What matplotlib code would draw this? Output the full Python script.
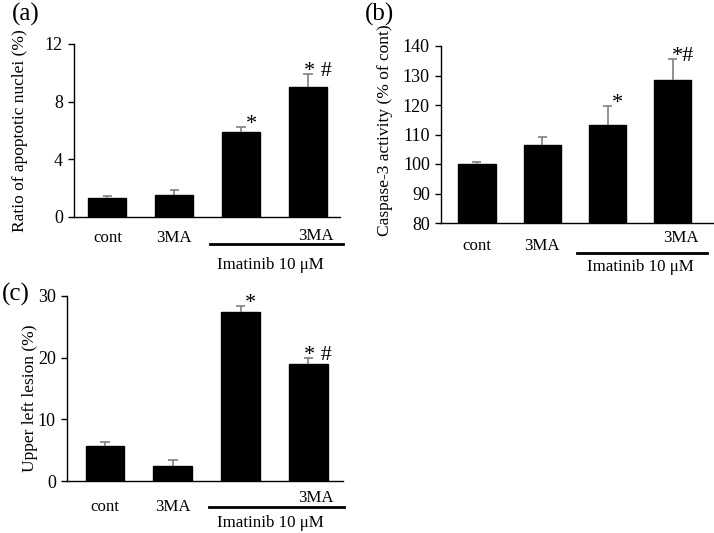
import numpy as np
import matplotlib
matplotlib.use("Agg")
import matplotlib.pyplot as plt
import matplotlib.transforms as mtransforms

plt.rcParams['font.family'] = ['Liberation Serif', 'DejaVu Serif']

# ---- data ----
groups = ['cont', '3MA', '', '3MA']

apoptotic_mean = [1.3, 1.55, 5.9, 9.0]
apoptotic_err = [0.15, 0.35, 0.35, 0.95]
apoptotic_marks = ['', '', '*', '* #']

caspase_mean = [100.0, 106.3, 113.2, 128.5]
caspase_err = [0.7, 2.7, 6.5, 7.2]
caspase_marks = ['', '', '*', '*#']

lesion_mean = [5.7, 2.5, 27.45, 18.95]
lesion_err = [0.55, 0.9, 0.95, 1.05]
lesion_marks = ['', '', '*', '* #']

DPI = 100
fig = plt.figure(figsize=(7.14, 5.33), dpi=DPI)


def draw_panel(rect, means, errs, marks, ylim, yticks, ylabel, xlim,
               ylab_pos, lab_off, ima_x):
    ax = fig.add_axes(rect)
    x = np.arange(len(means))
    ax.bar(x, np.array(means) - ylim[0], width=0.57, bottom=ylim[0],
           color='black', edgecolor='black', zorder=2)
    tops = np.array(means) + np.array(errs)
    ax.vlines(x, means, tops, color='#7f7f7f', lw=1.2, zorder=3)
    ax.hlines(tops, x - 0.07, x + 0.07, color='#7f7f7f', lw=1.2, zorder=3)
    for xi, t, m in zip(x, tops, marks):
        if m:
            tt = mtransforms.offset_copy(ax.transData, fig=fig, x=10, y=-2,
                                         units='dots')
            ax.text(xi, t, m, transform=tt, ha='center', va='baseline',
                    fontsize=16)
    ax.set_xlim(*xlim)
    ax.set_ylim(*ylim)
    ax.set_yticks(yticks)
    ax.set_xticks([])
    ax.set_ylabel(ylabel, fontsize=12.5)
    ax.yaxis.set_label_coords(*ylab_pos)
    ax.tick_params(axis='y', direction='out', length=4, width=1, pad=4,
                   labelsize=13)
    for s in ['top', 'right']:
        ax.spines[s].set_visible(False)
    for s in ['left', 'bottom']:
        ax.spines[s].set_linewidth(1.0)

    tr = ax.get_xaxis_transform()
    cont_off, ma_off, line_off, ima_off = lab_off
    for xi, g in zip(x[:2], groups[:2]):
        t = mtransforms.offset_copy(tr, fig=fig, y=-cont_off, units='dots')
        ax.text(xi, 0, g, transform=t, ha='center', va='center',
                fontsize=12.2)
    t = mtransforms.offset_copy(tr, fig=fig, x=8, y=-ma_off, units='dots')
    ax.text(x[3], 0, groups[3], transform=t, ha='center', va='center',
            fontsize=12.2)
    t = mtransforms.offset_copy(tr, fig=fig, y=-line_off, units='dots')
    ax.plot([1.53, 3.52], [0, 0], color='black', lw=2, transform=t,
            clip_on=False)
    t = mtransforms.offset_copy(tr, fig=fig, y=-ima_off, units='dots')
    ax.text(ima_x, 0, 'Imatinib 10 μM', transform=t, ha='center',
            va='center', fontsize=12.2)
    return ax


ax_a = draw_panel([74 / 714, 1 - 217 / 533, 266 / 714, 173 / 533],
                  apoptotic_mean, apoptotic_err, apoptotic_marks,
                  (0, 12), [0, 4, 8, 12], 'Ratio of apoptotic nuclei (%)',
                  (-0.5, 3.48), (-0.173, 0.50), (21, 19, 27, 48), 2.44)
ax_b = draw_panel([441 / 714, 1 - 223 / 533, 273 / 714, 177 / 533],
                  caspase_mean, caspase_err, caspase_marks,
                  (80, 140), [80, 90, 100, 110, 120, 130, 140],
                  'Caspase-3 activity (% of cont)',
                  (-0.55, 3.63), (-0.176, 0.525), (23, 15, 30, 44), 2.5)
ax_c = draw_panel([67 / 714, 1 - 481 / 533, 276 / 714, 185 / 533],
                  lesion_mean, lesion_err, lesion_marks,
                  (0, 30), [0, 10, 20, 30], 'Upper left lesion (%)',
                  (-0.56, 3.51), (-0.105, 0.45), (26, 17, 26, 42), 2.44)

fig.text(12 / 714, 1 - 14 / 533, '(a)', fontsize=18, ha='left', va='center')
fig.text(365 / 714, 1 - 14 / 533, '(b)', fontsize=18, ha='left', va='center')
fig.text(2 / 714, 1 - 294 / 533, '(c)', fontsize=18, ha='left', va='center')

fig.savefig('out.png', dpi=DPI)
